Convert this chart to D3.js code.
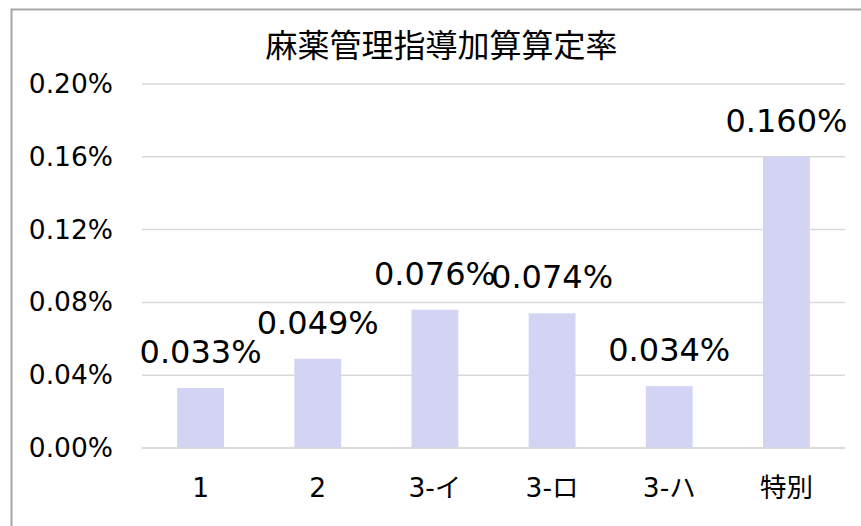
<!DOCTYPE html>
<html>
<head>
<meta charset="utf-8">
<script src="https://cdn.jsdelivr.net/npm/d3@7"></script>
<style>
  body { margin: 0; background: #fff; }
  text { font-family: "DejaVu Sans", Verdana, sans-serif; fill: #000; }
  .title { font-family: "Noto Sans CJK JP", sans-serif; }
</style>
</head>
<body>
<svg id="chart" width="861" height="526"></svg>
<script>
// chart data
const categories = ["1", "2", "3-イ", "3-ロ", "3-ハ", "特別"]
const rates = [0.033, 0.049, 0.076, 0.074, 0.034, 0.160]
const yTicks = [0, 0.04, 0.08, 0.12, 0.16, 0.20]
const title = "麻薬管理指導加算算定率"

const svg = d3.select("#chart")

// outer frame (only left and top edges fall inside the picture)
svg.append("rect")
  .attr("x", 11.5)
  .attr("y", 9.5)
  .attr("width", 900)
  .attr("height", 600)
  .attr("fill", "none")
  .attr("stroke", "#a6a6a6")
  .attr("stroke-width", 2)

const plotLeft = 142, plotRight = 845, plotTop = 84, plotBottom = 448

const x = d3.scaleBand()
  .domain(categories)
  .range([plotLeft, plotRight])
  .paddingInner(0.6)
  .paddingOuter(0.3)

const y = d3.scaleLinear()
  .domain([0, 0.20])
  .range([plotBottom, plotTop])

// gridlines
svg.append("g")
  .selectAll("line")
  .data(yTicks)
  .enter()
  .append("line")
  .attr("x1", plotLeft)
  .attr("x2", plotRight)
  .attr("y1", d => y(d))
  .attr("y2", d => y(d))
  .attr("stroke", "#d9d9d9")
  .attr("stroke-width", 1.5)

// y axis labels
const yAxis = d3.axisLeft(y)
  .tickValues(yTicks)
  .tickSize(0)
  .tickPadding(29)
  .tickFormat(d => d3.format(".2f")(d) + "%")

svg.append("g")
  .attr("transform", "translate(" + plotLeft + ",0)")
  .call(yAxis)
  .call(g => g.select(".domain").remove())
  .selectAll("text")
  .style("font-family", "'DejaVu Sans', sans-serif")
  .style("font-size", "26.5px")
  .attr("fill", "#000")

// bars
svg.append("g")
  .selectAll("rect")
  .data(rates)
  .enter()
  .append("rect")
  .attr("x", (d, i) => x(categories[i]))
  .attr("y", d => y(d))
  .attr("width", x.bandwidth())
  .attr("height", d => plotBottom - y(d))
  .attr("fill", "#d3d3f3")

// baseline drawn over the bars
svg.append("line")
  .attr("x1", plotLeft)
  .attr("x2", plotRight)
  .attr("y1", y(0))
  .attr("y2", y(0))
  .attr("stroke", "#d9d9d9")
  .attr("stroke-width", 1.5)

// value labels
svg.append("g")
  .selectAll("text")
  .data(rates)
  .enter()
  .append("text")
  .attr("x", (d, i) => x(categories[i]) + x.bandwidth() / 2)
  .attr("y", d => y(d) - 25)
  .attr("text-anchor", "middle")
  .style("font-size", "32px")
  .text(d => d3.format(".3f")(d) + "%")

// x axis labels
const xAxis = d3.axisBottom(x)
  .tickSize(0)
  .tickPadding(30)

svg.append("g")
  .attr("transform", "translate(0," + plotBottom + ")")
  .call(xAxis)
  .call(g => g.select(".domain").remove())
  .selectAll("text")
  .style("font-family", "'DejaVu Sans', 'Noto Sans CJK JP', sans-serif")
  .style("font-size", "26.5px")
  .attr("fill", "#000")

// title
svg.append("text")
  .attr("class", "title")
  .attr("x", (plotLeft + plotRight) / 2 - 52)
  .attr("y", 57)
  .attr("text-anchor", "middle")
  .style("font-size", "32px")
  .text(title)
</script>
</body>
</html>
